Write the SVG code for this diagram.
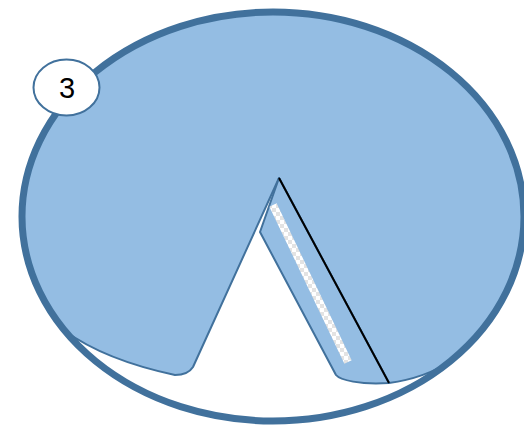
<svg xmlns="http://www.w3.org/2000/svg" width="524" height="427" viewBox="0 0 524 427">
  <style>
    .fill { fill: #94BDE3; stroke: #41719C; stroke-width: 2; stroke-linejoin: round; }
    .rim { fill: none; stroke: #41719C; stroke-width: 7; }
    .label { fill: #FFFFFF; stroke: #41719C; stroke-width: 2; }
    .num { font-family: "Liberation Sans", Arial, sans-serif; font-size: 29px; fill: #000000; text-anchor: middle; }
  </style>
  <defs>
    <pattern id="checker" width="8" height="8" patternUnits="userSpaceOnUse">
      <rect width="8" height="8" fill="#FFFFFF"/>
      <rect width="4" height="4" fill="#E3E3E3"/>
      <rect x="4" y="4" width="4" height="4" fill="#E3E3E3"/>
    </pattern>
  </defs>
  <rect width="524" height="427" fill="#FFFFFF"/>
  <g id="main-body">
    <path class="fill" d="M 65,331 A 251 204.5 0 1 1 450,361.5 Q 425,378 389,383 L 279,178 L 193,367 Q 188,375 175,375 Q 105,360 65,331 Z"/>
  </g>
  <g id="flap">
    <path class="fill" d="M 279,178 L 260,232 L 336,375 C 340,380 360,385 389,383 Z"/>
    <polygon points="276.6,203.3 269.4,206.7 344.4,363.7 351.6,360.3" fill="url(#checker)"/>
    <line x1="279" y1="178" x2="389" y2="383" stroke="#000000" stroke-width="2"/>
  </g>
  <g id="rim">
    <ellipse class="rim" cx="273" cy="216.5" rx="251" ry="204.5"/>
  </g>
  <g id="label-3">
    <ellipse class="label" cx="66.5" cy="87.5" rx="33" ry="28"/>
    <text class="num" x="67" y="98">3</text>
  </g>
</svg>
